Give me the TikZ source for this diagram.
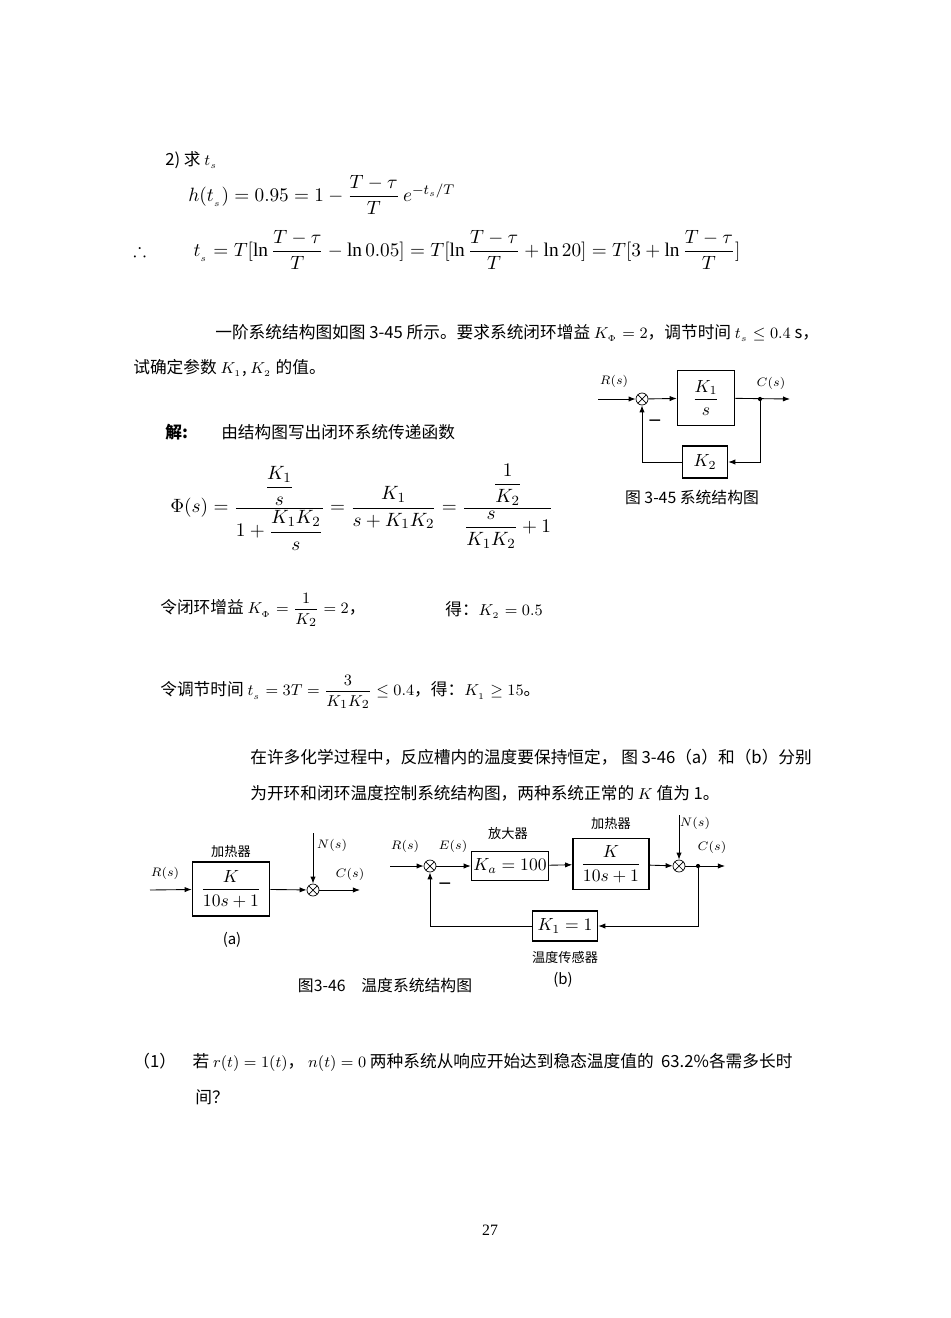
\documentclass[tikz,border=0pt]{standalone}
\usepackage{amsmath,amssymb}
\usepackage{fontspec}
\setmainfont{Liberation Serif}
\newfontfamily\cjk{Noto Sans CJK SC}
\usetikzlibrary{arrows.meta}
\begin{document}
\begin{tikzpicture}[x=0.02cm,y=-0.02cm,
  txt/.style={anchor=west,inner sep=0pt,font=\fontsize{9.5}{12}\selectfont\cjk},
  mtxt/.style={anchor=west,inner sep=0pt,font=\fontsize{11}{13}\selectfont\cjk},
  dtxt/.style={inner sep=0pt,font=\fontsize{7.5}{9}\selectfont\cjk},
  blk/.style={draw,line width=0.9pt,inner sep=0pt},
  sumc/.style={draw,circle,minimum size=12*0.02cm,inner sep=0pt,path picture={\draw (path picture bounding box.north west)--(path picture bounding box.south east) (path picture bounding box.north east)--(path picture bounding box.south west);}},
  sig/.style={-{Latex[length=4pt,width=3pt]},line width=0.5pt},
  ln/.style={line width=0.5pt}]
\useasboundingbox (0,0) rectangle (950,1318);
\fill[white] (0,0) rectangle (950,1318);
% top derivation
\node[txt] (t1) at (165,160) {2)\ 求\ $t_{{}_s}$};
\node[mtxt] (t2) at (188,195) {$h(t_{{}_s})=0.95=1-\dfrac{T-\tau}{T}\,e^{-t_s/T}$};
\node[mtxt] (t3) at (133,250) {$\therefore$\qquad\ \ $t_{{}_s}=T[\ln\dfrac{T-\tau}{T}-\ln0.05]=T[\ln\dfrac{T-\tau}{T}+\ln20]=T[3+\ln\dfrac{T-\tau}{T}]$};
\node[txt] (p1) at (215,333) {一阶系统结构图如图 3-45 所示。要求系统闭环增益 $K_{{}_\Phi}=2$，调节时间 $t_{{}_s}\le 0.4$ s，};
\node[txt] (p2) at (133,368) {试确定参数 $K_{{}_1}$, $K_{{}_2}$ 的值。};
\node[txt] (jie) at (165,432) {\textbf{解:}\qquad 由结构图写出闭环系统传递函数};
\node[mtxt] (phi) at (170,507) {$\Phi(s)=\dfrac{\dfrac{K_1}{s}}{1+\dfrac{K_1K_2}{s}}=\dfrac{K_1}{s+K_1K_2}=\dfrac{\dfrac{1}{K_2}}{\dfrac{s}{K_1K_2}+1}$};
\node[txt] (l1) at (160,610) {令闭环增益 $K_{{}_\Phi}=\dfrac{1}{K_2}=2$，};
\node[txt] (l1b) at (445,610) {得：$K_{{}_2}=0.5$};
\node[txt] (l2) at (160,692) {令调节时间 $t_{{}_s}=3T=\dfrac{3}{K_1K_2}\le0.4$，得：$K_{{}_1}\ge15$。};
\node[txt] (q1) at (250,757) {在许多化学过程中，反应槽内的温度要保持恒定， 图 3-46（a）和（b）分别};
\node[txt] (q2) at (250,793) {为开环和闭环温度控制系统结构图，两种系统正常的 $K$ 值为 1。};
\node[txt] (r1) at (133,1062) {（1）\quad 若 $r(t)=1(t)$，\ $n(t)=0$ 两种系统从响应开始达到稳态温度值的\ \ 63.2\%各需多长时};
\node[txt] (r2) at (195,1097) {间？};
\node[inner sep=0pt,font=\fontsize{9}{11}\selectfont] (pg) at (490,1230) {27};

% Fig 3-45
\coordinate (a0) at (598,399);
\node[sumc] (s1) at (642,399) {};
\node[blk,minimum width=57*0.02cm,minimum height=55*0.02cm] (k1) at (706,398) {$\dfrac{K_1}{s}$};
\coordinate (br) at (760,399);
\coordinate (ao) at (790,399);
\node[blk,minimum width=45*0.02cm,minimum height=32*0.02cm] (k2) at (705,462) {$K_2$};
\node[dtxt] at (614,381) {$R(s)$};
\node[dtxt] at (771,383) {$C(s)$};
\node[dtxt] at (655,422) {\textbf{—}};
\draw[sig] (a0)--(s1);
\draw[sig] (s1)--(k1);
\draw[sig] (k1)--(ao);
\fill (br) circle (1.2pt);
\draw[sig] (br)|-(k2.east);
\draw[sig] (k2.west)-|(s1.south);
\node[dtxt,font=\fontsize{9}{11}\selectfont\cjk] at (692,497) {图 3-45 系统结构图};

% Fig 3-46 (a)
\coordinate (ai) at (150,890);
\node[blk,minimum width=77*0.02cm,minimum height=54*0.02cm] (ha) at (231,889) {$\dfrac{K}{10s+1}$};
\node[sumc] (sa) at (313,890) {};
\coordinate (na) at (313,833);
\coordinate (oa) at (360,890);
\draw[sig] (ai)--(ha);
\draw[sig] (ha)--(sa);
\draw[sig] (na)--(sa);
\draw[sig] (sa)--(oa);
\node[dtxt] at (165,873) {$R(s)$};
\node[dtxt] at (231,852) {加热器};
\node[dtxt] at (332,845) {$N(s)$};
\node[dtxt] at (350,874) {$C(s)$};
\node[dtxt,font=\fontsize{8.5}{10}\selectfont\cjk] at (232,940) {(a)};

% Fig 3-46 (b)
\coordinate (bi) at (390,866);
\node[sumc] (sb1) at (430,866) {};
\node[blk,minimum width=77*0.02cm,minimum height=29*0.02cm] (ka) at (510,866) {$K_a=100$};
\node[blk,minimum width=76*0.02cm,minimum height=51*0.02cm] (hb) at (611,864) {$\dfrac{K}{10s+1}$};
\node[sumc] (sb2) at (679,866) {};
\coordinate (nb) at (679,815);
\coordinate (brb) at (698,866);
\coordinate (ob) at (725,866);
\node[blk,minimum width=65*0.02cm,minimum height=30*0.02cm] (kf) at (565,926) {$K_1=1$};
\draw[sig] (bi)--(sb1);
\draw[sig] (sb1)--(ka);
\draw[sig] (ka)--(hb);
\draw[sig] (hb)--(sb2);
\draw[sig] (nb)--(sb2);
\draw[sig] (sb2)--(ob);
\fill (brb) circle (1.2pt);
\draw[sig] (brb)|-(kf.east);
\draw[sig] (kf.west)-|(sb1.south);
\node[dtxt] at (405,846) {$R(s)$};
\node[dtxt] at (453,846) {$E(s)$};
\node[dtxt] at (508,833) {放大器};
\node[dtxt] at (611,824) {加热器};
\node[dtxt] at (695,823) {$N(s)$};
\node[dtxt] at (712,847) {$C(s)$};
\node[dtxt] at (445,885) {\textbf{—}};
\node[dtxt] at (565,957) {温度传感器};
\node[dtxt,font=\fontsize{8.5}{10}\selectfont\cjk] at (563,980) {(b)};
\node[dtxt,font=\fontsize{9}{11}\selectfont\cjk] at (385,985) {图3-46\quad 温度系统结构图};
\end{tikzpicture}
\end{document}
